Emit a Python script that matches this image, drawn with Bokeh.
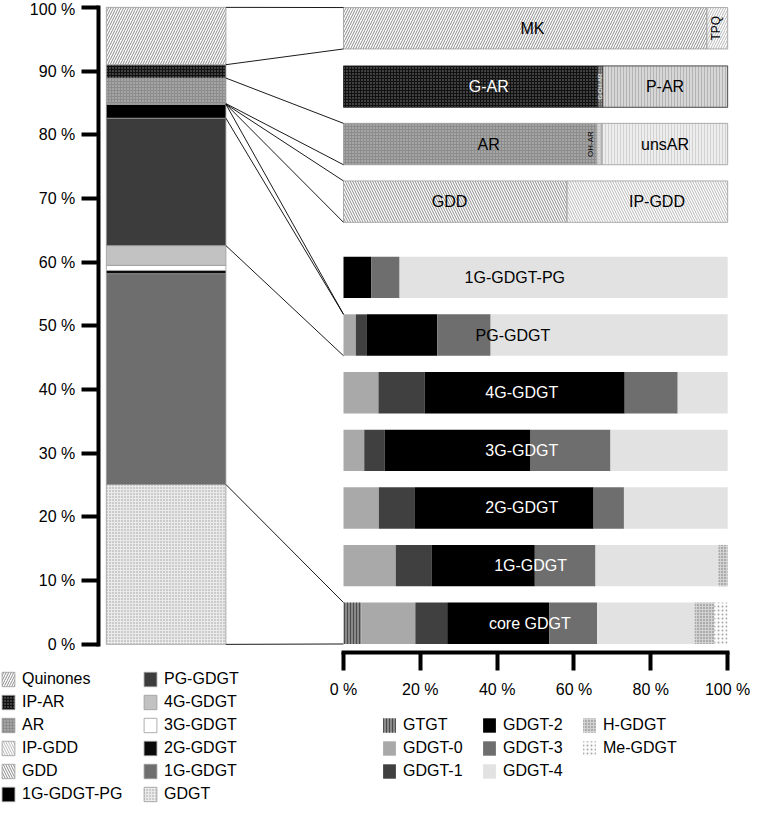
import numpy as np
from bokeh.plotting import figure
from bokeh.models import Range1d, LinearAxis, FixedTicker, Legend, LegendItem
from bokeh.core.properties import value
from bokeh.embed import file_html
from bokeh.resources import INLINE

FONT = "Liberation Sans"

# ---------------- data ----------------
# overall lipid composition (% of total), stacked bottom -> top
lipid_classes = ["GDGT", "1G-GDGT", "2G-GDGT", "3G-GDGT", "4G-GDGT", "PG-GDGT",
                 "1G-GDGT-PG", "GDD", "IP-GDD", "AR", "IP-AR", "Quinones"]
lipid_share = [25.1, 33.1, 0.5, 0.8, 3.1, 20.0, 2.2, 0.05, 0.05, 4.0, 2.1, 9.0]

# detail rows (% within class)
quinone_parts = ["MK", "TPQ"]
quinone_share = [94.6, 5.4]
ipar_parts = ["G-AR", "G-OH-AR", "P-AR"]
ipar_share = [66.2, 1.3, 32.5]
ar_parts = ["AR", "OH-AR", "unsAR"]
ar_share = [65.9, 1.4, 32.7]
gdd_parts = ["GDD", "IP-GDD"]
gdd_share = [58.2, 41.8]

# GDGT core distribution per headgroup class (% within class)
gdgt_rows = ["core GDGT", "1G-GDGT", "2G-GDGT", "3G-GDGT", "4G-GDGT", "PG-GDGT", "1G-GDGT-PG"]
components = ["GTGT", "GDGT-0", "GDGT-1", "GDGT-2", "GDGT-3", "GDGT-4", "H-GDGT", "Me-GDGT"]
gtgt   = [4.6, 0.0, 0.0, 0.0, 0.0, 0.0, 0.0]
gdgt_0 = [14.1, 13.6, 9.2, 5.4, 9.1, 3.2, 0.0]
gdgt_1 = [8.3, 9.4, 9.4, 5.3, 12.0, 2.9, 0.0]
gdgt_2 = [26.6, 26.8, 46.5, 38.0, 52.1, 18.3, 7.2]
gdgt_3 = [12.4, 15.8, 7.9, 20.8, 13.8, 13.9, 7.4]
gdgt_4 = [25.4, 32.0, 27.0, 30.5, 13.0, 61.7, 85.4]
h_gdgt = [5.1, 2.4, 0.0, 0.0, 0.0, 0.0, 0.0]
me_gdgt = [3.5, 0.0, 0.0, 0.0, 0.0, 0.0, 0.0]
comp_values = [gtgt, gdgt_0, gdgt_1, gdgt_2, gdgt_3, gdgt_4, h_gdgt, me_gdgt]

x_ticks = [0, 20, 40, 60, 80, 100]
y_ticks = [0, 10, 20, 30, 40, 50, 60, 70, 80, 90, 100]

# ---------------- styles ----------------
def sty(fill, hatch=None, hcolor=None, hscale=4, hweight=1.0, line="#9a9a9a", lw=0.8):
    d = dict(fill_color=fill, line_color=line, line_width=lw)
    if hatch:
        d.update(hatch_pattern=hatch, hatch_color=hcolor, hatch_scale=hscale, hatch_weight=hweight)
    return d

STY = {
    "Quinones": sty("white", "/", "#8a8a8a", 5),
    "MK": sty("white", "/", "#8a8a8a", 5),
    "TPQ": sty("white", "/", "#b8b8b8", 5),
    "IP-AR": sty("#111111", ".", "#8a8a8a", 3, 0.9),
    "G-AR": sty("#111111", ".", "#8a8a8a", 3, 0.9, line="#222222"),
    "G-OH-AR": sty("#6a6a6a", ".", "#cfcfcf", 3, 0.9, line="#222222"),
    "P-AR": sty("#d6d6d6", "|", "#b4b4b4", 3, 1.0, line="#222222"),
    "AR": sty("#8c8c8c", ".", "#c9c9c9", 3, 0.9),
    "OH-AR": sty("#c8c8c8", ".", "#eeeeee", 3, 0.9),
    "unsAR": sty("#ededed", "|", "#d2d2d2", 3, 1.0),
    "GDD": sty("white", "\\", "#8a8a8a", 5),
    "IP-GDD": sty("white", "\\", "#b8b8b8", 5),
    "1G-GDGT-PG": sty("#000000"),
    "PG-GDGT": sty("#3c3c3c"),
    "4G-GDGT": sty("#c2c2c2"),
    "3G-GDGT": sty("#ffffff"),
    "2G-GDGT": sty("#0a0a0a"),
    "1G-GDGT": sty("#6e6e6e"),
    "GDGT": sty("#eaeaea", ".", "#9c9c9c", 3, 0.8),
    "GTGT": sty("#8a8a8a", "|", "#4a4a4a", 3, 1.0, line=None),
    "GDGT-0": sty("#a9a9a9", line=None),
    "GDGT-1": sty("#404040", line=None),
    "GDGT-2": sty("#000000", line=None),
    "GDGT-3": sty("#6e6e6e", line=None),
    "GDGT-4": sty("#e2e2e2", line=None),
    "H-GDGT": sty("#d2d2d2", ".", "#707070", 3, 0.9, line=None),
    "Me-GDGT": sty("#fbfbfb", ".", "#a8a8a8", 4, 0.8, line=None),
}

# ---------------- layout (canvas = whole frame) ----------------
W, HGT = 750, 803
S = 0.98
X0, X100 = 350 * S, 742 * S          # canvas px of 0 % / 100 % (horizontal)
Y0, Y100 = 657 * S, 7 * S            # canvas px of 0 % / 100 % (vertical)
kx = (X100 - X0) / 100.0
ky = (Y0 - Y100) / 100.0
def dx(px):
    return (px - X0) / kx
def dy(py):
    return (Y0 - py) / ky

BAR_L, BAR_R = dx(108 * S), dx(230 * S)   # left overview column
H = 6.5                                  # row height (y % units)
gdgt_y = [3.31 + 9.05 * i for i in range(len(gdgt_rows))]
detail_y = {"GDD": 69.5, "AR": 78.54, "G-AR": 87.56, "MK": 96.72}

p = figure(width=W, height=HGT, output_backend="svg", toolbar_location=None,
           x_range=Range1d(dx(0), dx(W)), y_range=Range1d(dy(HGT), dy(0)),
           min_border=0, min_border_left=0, min_border_right=0,
           min_border_top=0, min_border_bottom=0,
           x_axis_location=None, y_axis_location=None)
p.outline_line_color = None
p.background_fill_color = "white"
p.border_fill_color = "white"
for g in p.grid:
    g.visible = False

# ---------------- left overview bar ----------------
tops = np.cumsum(lipid_share)
bottoms = tops - np.array(lipid_share)
left_r = {}
for name, b, t in zip(lipid_classes, bottoms, tops):
    left_r[name] = p.vbar(x=[(BAR_L + BAR_R) / 2], width=BAR_R - BAR_L,
                          bottom=[b], top=[t], **STY[name])

# ---------------- detail bars ----------------
def detail_row(parts, shares, yc):
    rights = np.cumsum(shares)
    lefts = rights - np.array(shares)
    for n, l, r in zip(parts, lefts, rights):
        p.hbar(y=[yc], height=H, left=[l], right=[r], **STY[n])

detail_row(quinone_parts, quinone_share, detail_y["MK"])
detail_row(ipar_parts, ipar_share, detail_y["G-AR"])
detail_row(ar_parts, ar_share, detail_y["AR"])
detail_row(gdd_parts, gdd_share, detail_y["GDD"])

comp_r = {}
cum = np.zeros(len(gdgt_rows))
for name, vals in zip(components, comp_values):
    v = np.array(vals)
    comp_r[name] = p.hbar(y=gdgt_y, height=H, left=cum.copy(), right=cum + v, **STY[name])
    cum = cum + v

# ---------------- connector lines ----------------
yq_top, yq_bot = tops[11], bottoms[11]
y_ar_top, y_ar_bot = tops[9], bottoms[9]
y_gdd = bottoms[7]
y_pgpg_top = tops[6]
y_pg_top, y_pg_bot = tops[5], bottoms[5]
y_gdgt_top = tops[0]
pg_row = gdgt_y[5]
src_y = [yq_top, yq_bot, y_ar_top, y_ar_bot, y_gdd, y_gdd, y_pgpg_top, y_pg_top, y_pg_bot, y_gdgt_top, 0.0]
dst_y = [detail_y["MK"] + H / 2, detail_y["MK"] - H / 2,
         detail_y["AR"] + H / 2, detail_y["AR"] - H / 2,
         detail_y["GDD"] + H / 2, detail_y["GDD"] - H / 2,
         pg_row + H / 2, pg_row + H / 2, pg_row - H / 2,
         gdgt_y[0] + H / 2, gdgt_y[0] - H / 2]
p.segment(x0=[BAR_R] * len(src_y), y0=src_y, x1=[0] * len(dst_y), y1=dst_y,
          line_color="black", line_width=0.9)

# ---------------- labels in bars ----------------
def label(x, y, t, color="black", size="16px", angle=0.0):
    p.text(x=[x], y=[y], text=[t], text_color=color, text_align="center",
           text_baseline="middle", text_font=value(FONT), text_font_size=size, angle=angle)

label(49.2, detail_y["MK"], "MK")
label(97.0, detail_y["MK"], "TPQ", size="12px", angle=np.pi / 2)
label(37.8, detail_y["G-AR"], "G-AR", color="white")
label(66.85, detail_y["G-AR"], "G-OH-AR", color="white", size="6px", angle=np.pi / 2)
label(83.7, detail_y["G-AR"], "P-AR")
label(37.8, detail_y["AR"], "AR")
label(64.3, detail_y["AR"], "OH-AR", size="8px", angle=np.pi / 2)
label(83.7, detail_y["AR"], "unsAR")
label(27.6, detail_y["GDD"], "GDD")
label(81.6, detail_y["GDD"], "IP-GDD")
row_lab_x = [48.5, 48.7, 46.4, 46.4, 46.4, 44.1, 44.6]
row_lab_c = ["white", "white", "white", "white", "white", "black", "black"]
for t, y, x, c in zip(gdgt_rows, gdgt_y, row_lab_x, row_lab_c):
    label(x, y, t, color=c)

# ---------------- axes (fixed inside the frame) ----------------
yaxis = LinearAxis(bounds=(0, 100), ticker=FixedTicker(ticks=y_ticks),
                   major_label_overrides={t: f"{t} %" for t in y_ticks},
                   fixed_location=dx(99.7 * S))
xaxis = LinearAxis(bounds=(0, 100), ticker=FixedTicker(ticks=x_ticks),
                   major_label_overrides={t: f"{t} %" for t in x_ticks},
                   fixed_location=dy(665.3 * S))
for ax, so, tl in ((yaxis, 6, 17), (xaxis, 11, 18)):
    ax.axis_line_width = 4
    ax.axis_line_cap = "square"
    ax.axis_line_color = "black"
    ax.major_tick_line_width = 4
    ax.major_tick_line_color = "black"
    ax.major_tick_out = tl
    ax.major_tick_in = 0
    ax.minor_tick_line_color = None
    ax.major_label_text_font = FONT
    ax.major_label_text_font_size = "16px"
    ax.major_label_text_color = "black"
    ax.major_label_standoff = so
p.add_layout(yaxis, "left")
p.add_layout(xaxis, "below")

# ---------------- legends ----------------
GH, SP = 18, 5

def add_legend(names, rmap, left_px, top_px):
    n = len(names)
    h = n * GH + (n - 1) * SP
    lg = Legend(items=[LegendItem(label=nm, renderers=[rmap[nm]]) for nm in names],
                location=(left_px, HGT - top_px - h),
                orientation="vertical", glyph_width=16, glyph_height=GH, spacing=SP,
                label_height=GH, label_standoff=6, padding=0, margin=0,
                border_line_color=None, background_fill_alpha=0,
                label_text_font=FONT, label_text_font_size="16px",
                label_text_color="black", label_text_baseline="middle")
    p.add_layout(lg)

add_legend(["Quinones", "IP-AR", "AR", "IP-GDD", "GDD", "1G-GDGT-PG"], left_r, 0, 670)
add_legend(["PG-GDGT", "4G-GDGT", "3G-GDGT", "2G-GDGT", "1G-GDGT", "GDGT"], left_r, 142, 670)
add_legend(["GTGT", "GDGT-0", "GDGT-1"], comp_r, 381, 716)
add_legend(["GDGT-2", "GDGT-3", "GDGT-4"], comp_r, 481, 716)
add_legend(["H-GDGT", "Me-GDGT"], comp_r, 581, 716)

open("out.html", "w").write(file_html(p, INLINE))
